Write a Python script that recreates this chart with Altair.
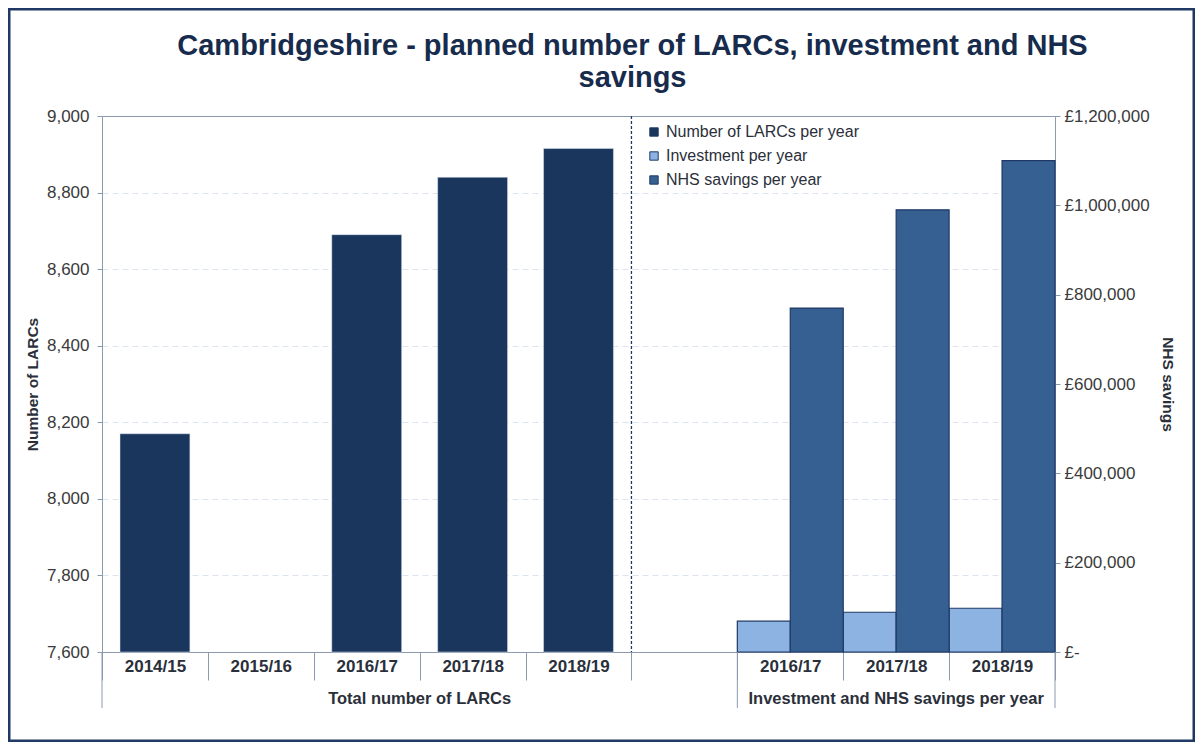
import altair as alt
import pandas as pd

# ---- data ----
larc_years = ["2014/15", "2015/16", "2016/17", "2017/18", "2018/19"]
larc_values = [8170, None, 8690, 8840, 8915]
fin_years = ["2016/17", "2017/18", "2018/19"]
investment = [69000, 89000, 98000]
nhs_savings = [770000, 990000, 1100000]
series_names = ["Number of LARCs per year", "Investment per year", "NHS savings per year"]
series_colors = ["#1a365d", "#8db3e2", "#366092"]
group_labels = ["Total number of LARCs", "Investment and NHS savings per year"]
title_lines = ["Cambridgeshire - planned number of LARCs, investment and NHS", "savings"]

FONT = "Liberation Sans"
W, H = 953, 536
AXIS_GRAY = "#8a9bb0"
TEXT = "#2a2f3a"

# slot keys: 5 LARC years, an empty slot, 3 finance years
larc_keys = ["L" + y for y in larc_years]
fin_keys = ["N" + y for y in fin_years]
slot_domain = larc_keys + ["gap"] + fin_keys

larc_df = pd.DataFrame({"slot": larc_keys, "value": larc_values, "series": series_names[0]})
fin_df = pd.DataFrame({
    "slot": fin_keys * 2,
    "value": investment + nhs_savings,
    "series": [series_names[1]] * 3 + [series_names[2]] * 3,
})

x_scale = alt.Scale(domain=slot_domain, paddingInner=0, paddingOuter=0)
x_axis = alt.Axis(
    title=None,
    labelExpr="isString(datum.value) && datum.value != 'gap' ? substring(datum.value, 1) : ''",
    tickBand="extent", tickSize=28, labelPadding=-22, labelAngle=0,
    labelFontWeight="bold", labelFontSize=17, labelColor=TEXT,
    tickColor=AXIS_GRAY, domainColor=AXIS_GRAY, grid=False,
)

color = alt.Color(
    "series:N",
    scale=alt.Scale(domain=series_names, range=series_colors),
    legend=alt.Legend(
        title=None, orient="none", legendX=544, legendY=8,
        symbolType="square", symbolSize=70, symbolStrokeColor="#1f3864",
        symbolStrokeWidth=1, labelFontSize=16, labelColor=TEXT,
        labelLimit=400, rowPadding=8, labelFont=FONT,
    ),
)

left = alt.Chart(larc_df).mark_bar(
    width=alt.RelativeBandSize(0.66), stroke="#dfe6ef", strokeWidth=0.5
).encode(
    x=alt.X("slot:N", scale=x_scale, axis=x_axis),
    y=alt.Y(
        "value:Q",
        scale=alt.Scale(domain=[7600, 9000], zero=False, nice=False, clamp=True),
        axis=alt.Axis(
            orient="left", values=list(range(7600, 9001, 200)), format=",.0f",
            labelFontSize=17, labelColor="#3a3a3a", labelPadding=8, tickSize=5,
            tickColor=AXIS_GRAY, domainColor=AXIS_GRAY,
            grid=True, gridDash=[6, 4], gridColor="#dce5ef",
            gridOpacity={"condition": {"test": "datum.value >= 9000 || datum.value <= 7600", "value": 0}, "value": 1},
            title="Number of LARCs", titleFontSize=15.5, titleFontWeight="bold",
            titleColor=TEXT, titlePadding=6,
        ),
    ),
    color=color,
)

right = alt.Chart(fin_df).mark_bar(stroke="#1f3864", strokeWidth=1.2).encode(
    x=alt.X("slot:N", scale=x_scale, axis=x_axis),
    xOffset=alt.XOffset(
        "series:N",
        scale=alt.Scale(domain=series_names[1:], paddingInner=0, paddingOuter=0),
    ),
    y=alt.Y(
        "value:Q",
        scale=alt.Scale(domain=[0, 1200000], nice=False),
        axis=alt.Axis(
            orient="right", values=list(range(0, 1200001, 200000)),
            labelExpr="datum.value == 0 ? '£-' : '£' + format(datum.value, ',.0f')",
            labelFontSize=17, labelColor="#3a3a3a", labelPadding=4, tickSize=5,
            tickColor=AXIS_GRAY, domainColor=AXIS_GRAY, grid=False,
            title="NHS savings", titleFontSize=15.5, titleFontWeight="bold",
            titleColor=TEXT, titlePadding=10,
        ),
    ),
    color=color,
)

divider = alt.Chart(pd.DataFrame({"slot": ["gap"]})).mark_rule(
    strokeDash=[3, 2], color="#1f3864", strokeWidth=1.3
).encode(
    x=alt.X("slot:N", bandPosition=0, scale=x_scale, axis=x_axis),
    y=alt.value(0), y2=alt.value(H),
)

sep_start = alt.Chart(pd.DataFrame({"slot": [larc_keys[0], fin_keys[0]]})).mark_rule(
    color=AXIS_GRAY, strokeWidth=1
).encode(
    x=alt.X("slot:N", bandPosition=0, scale=x_scale, axis=x_axis),
    y=alt.value(H), y2=alt.value(H + 56),
)
sep_end = alt.Chart(pd.DataFrame({"slot": [fin_keys[-1]]})).mark_rule(
    color=AXIS_GRAY, strokeWidth=1
).encode(
    x=alt.X("slot:N", bandPosition=1, scale=x_scale, axis=x_axis),
    y=alt.value(H), y2=alt.value(H + 56),
)

grp1 = alt.Chart(pd.DataFrame({"slot": [larc_keys[3]], "label": [group_labels[0]]})).mark_text(
    font=FONT, fontSize=16.5, fontWeight="bold", color=TEXT, baseline="middle"
).encode(
    x=alt.X("slot:N", bandPosition=0, scale=x_scale, axis=x_axis),
    y=alt.value(H + 47), text="label:N",
)
grp2 = alt.Chart(pd.DataFrame({"slot": [fin_keys[1]], "label": [group_labels[1]]})).mark_text(
    font=FONT, fontSize=16.5, fontWeight="bold", color=TEXT, baseline="middle"
).encode(
    x=alt.X("slot:N", bandPosition=0.5, scale=x_scale, axis=x_axis),
    y=alt.value(H + 47), text="label:N",
)

frame = alt.Chart(pd.DataFrame({"k": [0]})).mark_rect(
    fillOpacity=0, stroke="#1f3864", strokeWidth=3
).encode(
    x=alt.value(-93), x2=alt.value(W + 139), y=alt.value(-107), y2=alt.value(H + 89)
)

chart = alt.layer(
    left, right, divider, sep_start, sep_end, grp1, grp2, frame
).resolve_scale(
    y="independent"
).properties(
    width=W, height=H, autosize="none",
    padding={"left": 94, "top": 108, "right": 140, "bottom": 90},
    title=alt.TitleParams(
        text=title_lines, fontSize=29, fontWeight="bold", color="#172b4d",
        font=FONT, anchor="middle", frame="group", dx=54, offset=-85, lineHeight=32,
    ),
).configure(
    font=FONT
).configure_view(
    stroke=AXIS_GRAY, strokeWidth=1
).configure_axis(
    labelFont=FONT, titleFont=FONT
)

chart.save("out.html", embed_options={"renderer": "svg", "actions": False})
